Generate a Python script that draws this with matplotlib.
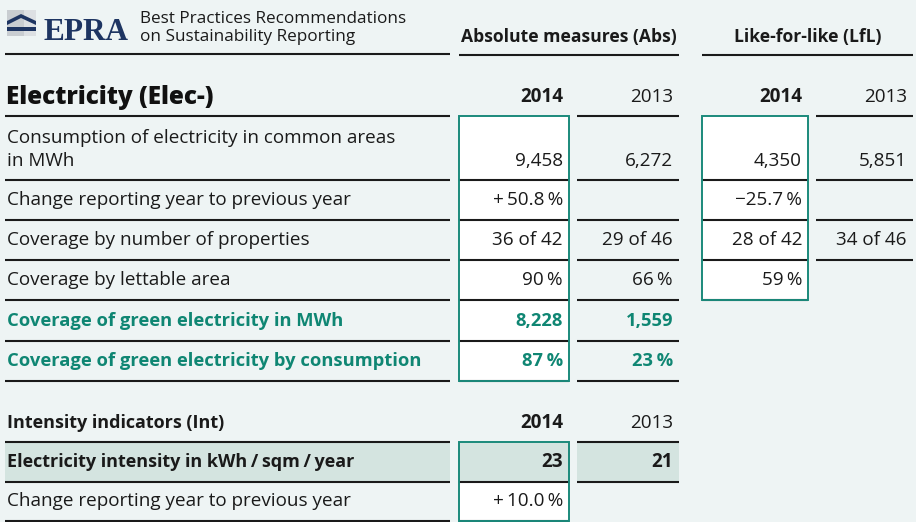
import matplotlib
matplotlib.use("Agg")
import matplotlib.pyplot as plt
from matplotlib.patches import Rectangle, Polygon

plt.rcParams['font.family'] = ['Open Sans', 'DejaVu Sans']

## data
row_labels = ["Consumption of electricity in common areas\nin MWh",
              "Change reporting year to previous year",
              "Coverage by number of properties",
              "Coverage by lettable area",
              "Coverage of green electricity in MWh",
              "Coverage of green electricity by consumption"]
green_rows = [4, 5]
abs_2014 = ["9,458", "+\u200950.8\u2009%", "36 of 42", "90\u2009%", "8,228", "87\u2009%"]
abs_2013 = ["6,272", "", "29 of 46", "66\u2009%", "1,559", "23\u2009%"]
lfl_2014 = ["4,350", "\u221225.7\u2009%", "28 of 42", "59\u2009%"]
lfl_2013 = ["5,851", "", "34 of 46"]

int_labels = ["Electricity intensity in kWh\u2009/\u2009sqm\u2009/\u2009year",
              "Change reporting year to previous year"]
int_2014 = ["23", "+\u200910.0\u2009%"]
int_2013 = ["21", ""]

years = ["2014", "2013"]

## style / layout (pixels)
BG = "#eef4f4"
TEAL = "#1b8a7b"
GREEN = "#0f8673"
SHADE = "#d4e4e0"
NAVY = "#1e3562"
INK = "#1a1a1a"
LW = 1.5
FS = 13.6
FS_GREEN = 13.2

row_edges = [116, 180, 220, 260, 300, 341, 381]
int_edges = [442, 482, 521]
lab_x = (5, 450)
abs14_x = (459, 569)
abs13_x = (577, 679)
lfl14_x = (702, 808)
lfl13_x = (816, 913)
txt_pad = 6

fig = plt.figure(figsize=(9.16, 5.22), dpi=100, facecolor=BG)
ax = fig.add_axes([0, 0, 1, 1])
ax.set_xlim(0, 916)
ax.set_ylim(522, 0)
ax.axis('off')
ax.set_facecolor(BG)


def hline(y, xr, color=INK, lw=LW, z=3):
    ax.plot([xr[0], xr[1]], [y, y], color=color, lw=lw, solid_capstyle='butt', zorder=z)


def box(xr, y0, y1, fill="white"):
    ax.add_patch(Rectangle((xr[0], y0), xr[1] - xr[0], y1 - y0, facecolor=fill,
                           edgecolor='none', zorder=1))


def box_border(xr, y0, y1):
    ax.add_patch(Rectangle((xr[0], y0), xr[1] - xr[0], y1 - y0, facecolor='none',
                           edgecolor=TEAL, lw=1.4, zorder=5))


def val(xr, y, s, fs=FS, **kw):
    ax.text(xr[1] - txt_pad, y, s, ha='right', va='center', fontsize=fs, color=kw.pop('color', INK), **kw)


## logo
ax.add_patch(Rectangle((7, 10), 29, 26, facecolor="#c9cdd1", edgecolor='none', zorder=2))
ax.add_patch(Rectangle((24, 10), 12, 26, facecolor="#dde0e3", edgecolor='none', zorder=2))
ax.add_patch(Polygon([(7, 21), (21, 14), (36, 21), (36, 25), (21, 18), (7, 25)],
                     closed=True, facecolor=NAVY, edgecolor='none', zorder=3))
ax.add_patch(Polygon([(7, 27), (36, 27), (36, 31), (7, 31)],
                     closed=True, facecolor=NAVY, edgecolor='none', zorder=3))
ax.text(44, 40, "EPRA", fontsize=22.5, fontweight='bold', color=NAVY,
        family=['Liberation Serif', 'DejaVu Serif'], va='baseline', ha='left')
ax.text(140, 19, "Best Practices Recommendations", fontsize=12.3, color=INK, va='center')
ax.text(140, 37, "on Sustainability Reporting", fontsize=12.3, color=INK, va='center')
hline(54, lab_x)

## group headers
ax.text((abs14_x[0] + abs13_x[1]) / 2, 37, "Absolute measures (Abs)", fontsize=12.6,
        fontweight='bold', ha='center', va='center', color=INK)
hline(55, (abs14_x[0], abs13_x[1]))
ax.text((lfl14_x[0] + lfl13_x[1]) / 2, 37, "Like-for-like (LfL)", fontsize=12.6,
        fontweight='bold', ha='center', va='center', color=INK)
hline(55, (lfl14_x[0], lfl13_x[1]))

## section header
ax.text(6, 97, "Electricity (Elec-)", fontsize=17.5, fontweight='heavy', ha='left', va='center',
        color="#111111")
for xr, y in [(abs14_x, years[0]), (abs13_x, years[1]), (lfl14_x, years[0]), (lfl13_x, years[1])]:
    val(xr, 97, y, fontweight='bold' if y == years[0] else 'normal')

## white boxes for 2014 columns
box(abs14_x, row_edges[0], row_edges[-1])
box(lfl14_x, row_edges[0], row_edges[len(lfl_2014)])

## rows
hline(row_edges[0], lab_x)
hline(row_edges[0], abs13_x)
hline(row_edges[0], lfl13_x)
for i, lab in enumerate(row_labels):
    y0, y1 = row_edges[i], row_edges[i + 1]
    yc = (y0 + y1) / 2
    green = i in green_rows
    col = GREEN if green else INK
    fw = 'bold' if green else 'normal'
    fs = FS_GREEN if green else FS
    if "\n" in lab:
        l1, l2 = lab.split("\n")
        vy = y1 - 19
        ax.text(7, vy - 23, l1, fontsize=fs, color=col, fontweight=fw, va='center')
        ax.text(7, vy, l2, fontsize=fs, color=col, fontweight=fw, va='center')
    else:
        vy = yc
        ax.text(7, vy, lab, fontsize=fs, color=col, fontweight=fw, va='center')
    val(abs14_x, vy, abs_2014[i], fs=fs, color=col, fontweight=fw)
    val(abs13_x, vy, abs_2013[i], fs=fs, color=col, fontweight=fw)
    hline(y1, lab_x)
    hline(y1, abs13_x)
    hline(y1, abs14_x)
    if i < len(lfl_2014):
        val(lfl14_x, vy, lfl_2014[i])
        hline(y1, lfl14_x)
    if i < len(lfl_2013):
        val(lfl13_x, vy, lfl_2013[i])
        hline(y1, lfl13_x)

box_border(abs14_x, row_edges[0], row_edges[-1])
box_border(lfl14_x, row_edges[0], row_edges[len(lfl_2014)])

## intensity section
ax.text(7, 423, "Intensity indicators (Int)", fontsize=FS - 0.6, fontweight='bold',
        va='center', color=INK)
val(abs14_x, 423, years[0], fontweight='bold')
val(abs13_x, 423, years[1])

box(lab_x, int_edges[0], int_edges[1], fill=SHADE)
box(abs13_x, int_edges[0], int_edges[1], fill=SHADE)
box(abs14_x, int_edges[0], int_edges[1], fill=SHADE)
box(abs14_x, int_edges[1], int_edges[2])
hline(int_edges[0], lab_x)
hline(int_edges[0], abs13_x)
for i, lab in enumerate(int_labels):
    y0, y1 = int_edges[i], int_edges[i + 1]
    yc = (y0 + y1) / 2
    fw = 'bold' if i == 0 else 'normal'
    ax.text(7, yc, lab, fontsize=FS - (0.6 if i == 0 else 0), fontweight=fw, va='center', color=INK)
    val(abs14_x, yc, int_2014[i], fontweight=fw)
    val(abs13_x, yc, int_2013[i], fontweight=fw)
    hline(y1, lab_x)
    hline(y1, abs14_x)
    if int_2013[i]:
        hline(y1, abs13_x)
box_border(abs14_x, int_edges[0], int_edges[-1])

fig.savefig("out.png", dpi=100, facecolor=BG)
